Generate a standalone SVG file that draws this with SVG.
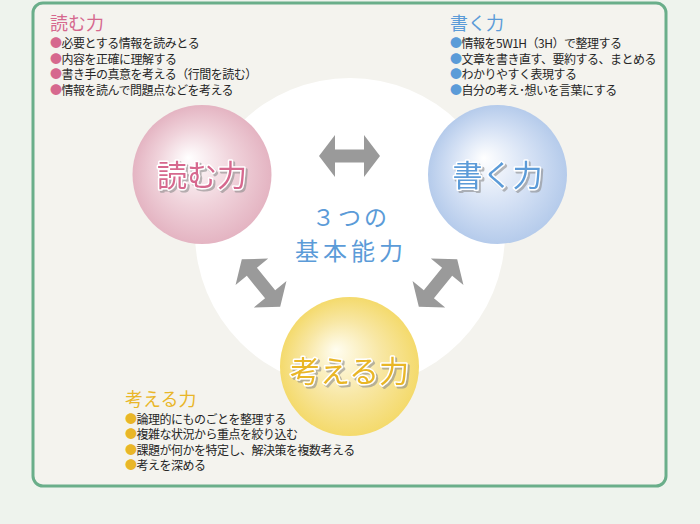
<svg xmlns="http://www.w3.org/2000/svg" width="700" height="524" viewBox="0 0 700 524">
<defs>
<style>
.t{font-family:"Noto Sans CJK JP","Noto Sans",sans-serif;}
.body{font-size:12px;fill:#262626;letter-spacing:-0.5px;}
.head{font-size:18px;}
.orb{font-size:30px;stroke:#ffffff;stroke-width:3;paint-order:stroke;stroke-linejoin:round;filter:url(#shadow);}
.pink{fill:#d6688e;}
.blue{fill:#5b9bd8;}
.yel{fill:#e9b628;}
.arrow{fill:#9a9a9a;}
</style>
<filter id="shadow" x="-10%" y="-20%" width="130%" height="150%">
<feDropShadow dx="2" dy="2" stdDeviation="0.6" flood-color="#8c8c8c" flood-opacity="0.6"/>
</filter>
<radialGradient id="gPink" cx="0.5" cy="0.5" r="0.5" fx="0.4" fy="0.38">
<stop offset="0" stop-color="#ffffff"/>
<stop offset="0.55" stop-color="#f0d3db"/>
<stop offset="1" stop-color="#e4b4c2"/>
</radialGradient>
<radialGradient id="gBlue" cx="0.5" cy="0.5" r="0.5" fx="0.4" fy="0.38">
<stop offset="0" stop-color="#ffffff"/>
<stop offset="0.55" stop-color="#d6e2f5"/>
<stop offset="1" stop-color="#b5cbeb"/>
</radialGradient>
<radialGradient id="gYel" cx="0.5" cy="0.5" r="0.5" fx="0.4" fy="0.38">
<stop offset="0" stop-color="#fffdf0"/>
<stop offset="0.55" stop-color="#f8e7a4"/>
<stop offset="1" stop-color="#f4da6c"/>
</radialGradient>
<path id="dblArrow" d="M-30.5,0 L-14.5,-21 L-14.5,-6.5 L14.5,-6.5 L14.5,-21 L30.5,0 L14.5,21 L14.5,6.5 L-14.5,6.5 L-14.5,21 Z"/>
</defs>

<rect x="0" y="0" width="700" height="524" fill="#eef3ed"/>
<rect x="33" y="3" width="633" height="483" rx="10" ry="10" fill="#f4f3ee" stroke="#6aae8a" stroke-width="3"/>

<g id="center-area">
<circle cx="350" cy="233" r="155" fill="#ffffff"/>
</g>

<g id="connectors">
<use href="#dblArrow" class="arrow" transform="translate(349.5,156)"/>
<use href="#dblArrow" class="arrow" transform="translate(261,283) rotate(51)"/>
<use href="#dblArrow" class="arrow" transform="translate(438,283) rotate(-51)"/>
</g>

<g id="node-center">
<text class="t blue" x="351" y="226" font-size="23" letter-spacing="3" text-anchor="middle">３つの</text>
<text class="t blue" x="351" y="260" font-size="24" letter-spacing="4" text-anchor="middle">基本能力</text>
</g>

<g id="node-read">
<circle cx="202" cy="174.5" r="69.5" fill="url(#gPink)"/>
<text class="t orb pink" x="202" y="186" text-anchor="middle">読む力</text>
</g>

<g id="node-write">
<circle cx="497.5" cy="174.5" r="69.5" fill="url(#gBlue)"/>
<text class="t orb blue" x="497.5" y="186" text-anchor="middle">書く力</text>
</g>

<g id="node-think">
<circle cx="349.5" cy="366.5" r="69.5" fill="url(#gYel)"/>
<text class="t orb yel" x="349.5" y="382" text-anchor="middle">考える力</text>
</g>

<g id="list-read">
<text class="t head pink" x="50" y="29.5">読む力</text>
<text class="t body" x="50" y="48"><tspan class="pink">●</tspan>必要とする情報を読みとる</text>
<text class="t body" x="50" y="63.5"><tspan class="pink">●</tspan>内容を正確に理解する</text>
<text class="t body" x="50" y="79"><tspan class="pink">●</tspan>書き手の真意を考える（行間を読む）</text>
<text class="t body" x="50" y="94.5"><tspan class="pink">●</tspan>情報を読んで問題点などを考える</text>
</g>

<g id="list-write">
<text class="t head blue" x="450" y="29.5">書く力</text>
<text class="t body" x="450" y="48"><tspan class="blue">●</tspan>情報を5W1H（3H）で整理する</text>
<text class="t body" x="450" y="63.5"><tspan class="blue">●</tspan>文章を書き直す、要約する、まとめる</text>
<text class="t body" x="450" y="79"><tspan class="blue">●</tspan>わかりやすく表現する</text>
<text class="t body" x="450" y="94.5"><tspan class="blue">●</tspan>自分の考え･想いを言葉にする</text>
</g>

<g id="list-think">
<text class="t head yel" x="125" y="405.5">考える力</text>
<text class="t body" x="125" y="423.5"><tspan class="yel">●</tspan>論理的にものごとを整理する</text>
<text class="t body" x="125" y="439"><tspan class="yel">●</tspan>複雑な状況から重点を絞り込む</text>
<text class="t body" x="125" y="454.5"><tspan class="yel">●</tspan>課題が何かを特定し、解決策を複数考える</text>
<text class="t body" x="125" y="470"><tspan class="yel">●</tspan>考えを深める</text>
</g>
</svg>
